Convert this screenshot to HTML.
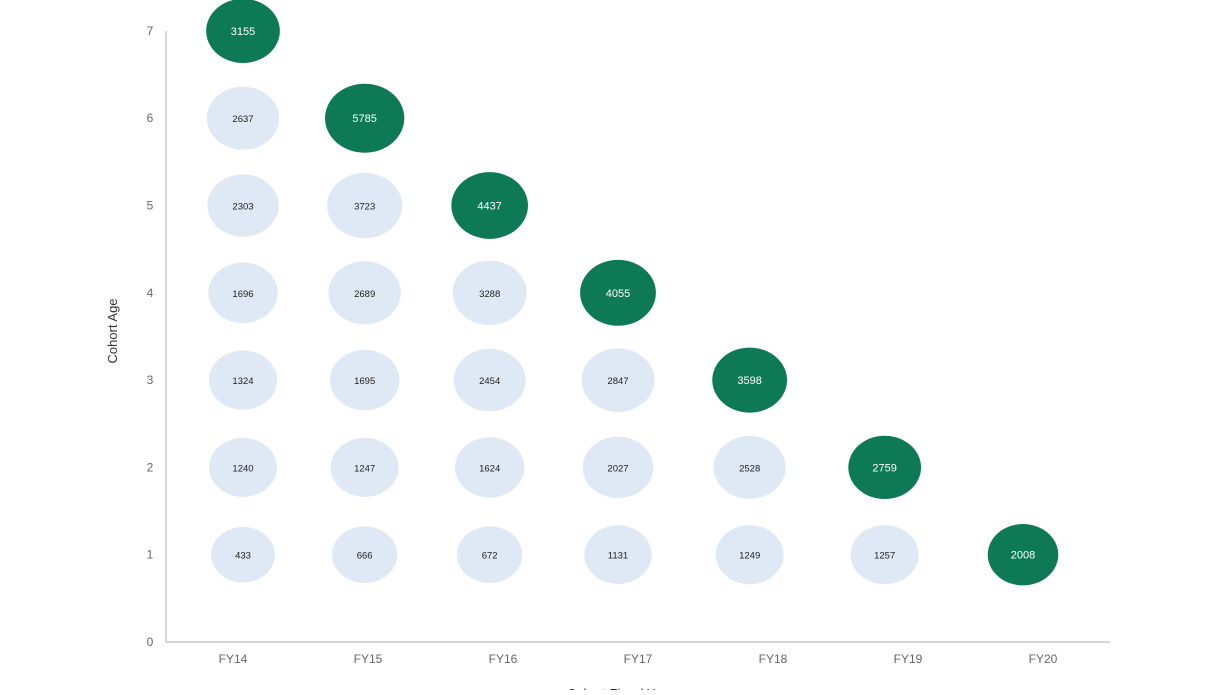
<!DOCTYPE html>
<html><head><meta charset="utf-8"><style>
body{margin:0;background:#fff;width:1226px;height:690px;overflow:hidden}
svg text{font-family:"Liberation Sans",sans-serif}
</style></head><body>
<svg id="chart" width="1226" height="690" viewBox="0 0 1226 690">
<g id="axes"></g><g id="bubbles"></g>
</svg>
<script>
const categories = ["FY14","FY15","FY16","FY17","FY18","FY19","FY20"];
const yTicks = [0,1,2,3,4,5,6,7];
// values[i] = counts for category i at cohort ages 1..n
const values = [
 [433,1240,1324,1696,2303,2637,3155],
 [666,1247,1695,2689,3723,5785],
 [672,1624,2454,3288,4437],
 [1131,2027,2847,4055],
 [1249,2528,3598],
 [1257,2759],
 [2008]
];
const NS="http://www.w3.org/2000/svg";
const ax=document.getElementById('axes'), bg=document.getElementById('bubbles');
function yScale(v){return 642 - v*87.3;}
function xLabel(i){return 233 + i*135;}
function xBubble(i){return 243 + i*120 + i*i*1.667;}
function mk(tag,attrs,parent,txt){const e=document.createElementNS(NS,tag);for(const k in attrs)e.setAttribute(k,attrs[k]);if(txt!==undefined)e.textContent=txt;parent.appendChild(e);return e;}
const yl=mk('line',{x1:166,y1:31,x2:166,y2:642,stroke:'#c8c8c8','stroke-width':1.5},ax);


const xl=mk('line',{x1:166,y1:642,x2:1110,y2:642,stroke:'#c8c8c8','stroke-width':1.5},ax);


yTicks.forEach(t=>{
 const e=mk('text',{x:150,y:yScale(t)+4,'text-anchor':'middle','font-size':12,fill:'#666'},ax,String(t));
 
 
});
categories.forEach((c,i)=>{
 const e=mk('text',{x:xLabel(i),y:663,'text-anchor':'middle','font-size':12,fill:'#666'},ax,c);
 
 
});
const yt=mk('text',{x:0,y:0,transform:'translate(117,331) rotate(-90)','text-anchor':'middle','font-size':13,fill:'#333'},ax,'Cohort Age');


const xt=mk('text',{x:620,y:698,'text-anchor':'middle','font-size':13,fill:'#333'},ax,'Cohort Fiscal Year');


values.forEach((arr,i)=>{
 arr.forEach((v,j)=>{
  const age=j+1, last=j===arr.length-1;
  const rx=29+Math.sqrt(v)*0.14, ry=rx*0.87;
  const cx=xBubble(i), cy=yScale(age);
  const el=mk('ellipse',{cx:cx,cy:cy,rx:rx,ry:ry,fill:last?'#0e7a55':'#dfe9f5'},bg);
  
  
  const t=mk('text',{x:cx,y:cy+4,'text-anchor':'middle','font-size':last?11:9.5,fill:last?'#fff':'#222'},bg,String(v));
  
  
 });
});
</script>
</body></html>
